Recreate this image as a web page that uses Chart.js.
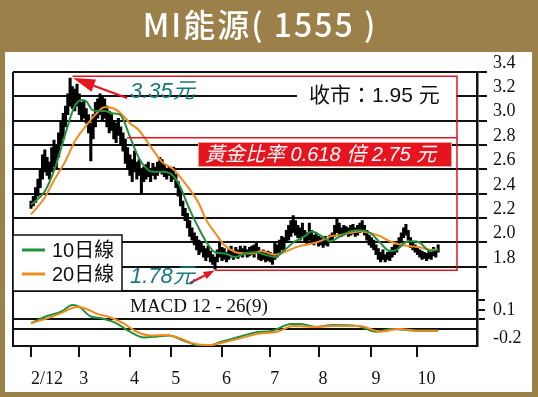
<!DOCTYPE html>
<html lang="zh-Hant">
<head>
<meta charset="UTF-8" />
<title>MI能源(1555)</title>
<script src="https://cdn.jsdelivr.net/npm/chart.js"></script>
<style>
  html, body { margin: 0; padding: 0; background: #9c8049; overflow: hidden; }
  #chart { display: block; }
</style>
</head>
<body>
<canvas id="chart" width="538" height="397"></canvas>
<script>
// === values (x = trading day from 1 Feb 2012) ===
const monthTicks = [0, 21, 43, 61, 83, 104, 125, 148, 168];
const monthLabels = ["2/12", "3", "4", "5", "6", "7", "8", "9", "10"];
const priceTicks = [1.6, 1.8, 2.0, 2.2, 2.4, 2.6, 2.8, 3.0, 3.2, 3.4];
const macdTicks = [0.2, 0.1, 0, -0.1, -0.2];

// daily low / high
const lows = [
  2.28, 2.30, 2.33, 2.38, 2.45, 2.52, 2.58, 2.55, 2.52, 2.58,
  2.62, 2.60, 2.70, 2.80, 2.85, 2.95, 3.05, 3.12, 3.10, 3.08,
  3.12, 3.05, 3.00, 3.02, 2.98, 2.90, 2.67, 2.85, 2.95, 3.02,
  3.05, 3.00, 3.02, 2.95, 2.90, 2.92, 2.85, 2.82, 2.88, 2.80,
  2.75, 2.65, 2.60, 2.55, 2.50, 2.58, 2.52, 2.55, 2.40, 2.50,
  2.52, 2.54, 2.50, 2.55, 2.52, 2.55, 2.58, 2.56, 2.54, 2.52,
  2.55, 2.50, 2.52, 2.45, 2.38, 2.30, 2.22, 2.18, 2.12, 2.05,
  2.02, 1.98, 1.94, 1.90, 1.92, 1.88, 1.85, 1.88, 1.84, 1.82,
  1.78, 1.84, 1.88, 1.85, 1.86, 1.84, 1.86, 1.88, 1.86, 1.88,
  1.87, 1.89, 1.88, 1.90, 1.88, 1.89, 1.90, 1.88, 1.92, 1.86,
  1.85, 1.86, 1.84, 1.85, 1.84, 1.82, 1.86, 1.88, 1.90, 1.94,
  1.92, 2.00, 2.02, 2.05, 2.08, 2.06, 2.04, 2.02, 2.05, 2.00,
  1.98, 2.02, 2.00, 1.98, 2.00, 1.97, 1.98, 1.96, 1.98, 1.97,
  2.00, 2.02, 2.05, 2.08, 2.06, 2.05, 2.06, 2.07, 2.05, 2.06,
  2.07, 2.05, 2.06, 2.08, 2.10, 2.06, 2.02, 1.98, 1.96, 1.94,
  1.90, 1.86, 1.84, 1.86, 1.84, 1.86, 1.85, 1.88, 1.90, 1.92,
  1.96, 2.00, 2.04, 2.06, 2.02, 1.96, 1.94, 1.92, 1.90, 1.88,
  1.86, 1.87, 1.85, 1.87, 1.86, 1.89, 1.88, 1.92
];
const highs = [
  2.34, 2.38, 2.45, 2.52, 2.60, 2.72, 2.76, 2.70, 2.66, 2.78,
  2.84, 2.80, 2.90, 3.00, 3.06, 3.12, 3.22, 3.35, 3.28, 3.26,
  3.30, 3.22, 3.15, 3.16, 3.10, 3.05, 2.98, 3.05, 3.15, 3.18,
  3.22, 3.20, 3.18, 3.12, 3.08, 3.05, 3.00, 2.98, 3.02, 2.95,
  2.90, 2.85, 2.78, 2.72, 2.68, 2.75, 2.66, 2.68, 2.60, 2.62,
  2.64, 2.66, 2.60, 2.65, 2.62, 2.66, 2.70, 2.68, 2.64, 2.60,
  2.62, 2.60, 2.62, 2.56, 2.50, 2.44, 2.34, 2.28, 2.24, 2.18,
  2.12, 2.08, 2.05, 2.02, 2.00, 1.97, 1.95, 1.97, 1.93, 1.90,
  1.88, 1.94, 2.00, 1.96, 1.95, 1.92, 1.94, 1.97, 1.92, 1.96,
  1.94, 1.97, 1.95, 1.97, 1.94, 1.96, 1.97, 1.98, 2.00, 1.96,
  1.92, 1.94, 1.91, 1.93, 1.92, 1.90, 2.00, 1.98, 2.02, 2.05,
  2.04, 2.10, 2.14, 2.18, 2.22, 2.18, 2.14, 2.12, 2.16, 2.10,
  2.08, 2.16, 2.10, 2.06, 2.08, 2.05, 2.04, 2.03, 2.05, 2.02,
  2.06, 2.08, 2.14, 2.20, 2.16, 2.12, 2.14, 2.13, 2.12, 2.14,
  2.15, 2.12, 2.14, 2.16, 2.18, 2.14, 2.10, 2.06, 2.04, 2.02,
  1.98, 1.95, 1.92, 1.94, 1.90, 1.92, 1.93, 1.96, 1.98, 2.00,
  2.04, 2.08, 2.12, 2.15, 2.10, 2.04, 2.00, 1.98, 1.96, 1.94,
  1.93, 1.92, 1.91, 1.93, 1.92, 1.96, 1.94, 1.98
];

// 10-day and 20-day moving averages (sampled along the curves)
const ma10Day = [0, 6, 10, 13.5, 16, 19, 22, 24, 26.5, 28.7, 32, 35.7, 38.7, 43, 46, 48.7, 53, 57.4, 61.7, 64.8, 69, 72.6, 75.7, 80, 84.3, 88.7, 93, 97.4, 101.7, 106, 110.4, 114.8, 119, 122, 126.5, 130, 134.3, 138.7, 143, 147.4, 151.7, 156, 159, 162.6, 166, 169, 173.5, 177];
const ma10 = [2.31, 2.42, 2.59, 2.80, 2.96, 3.12, 3.17, 3.16, 3.09, 3.08, 3.08, 3.06, 3.05, 2.87, 2.73, 2.64, 2.58, 2.58, 2.55, 2.46, 2.27, 2.13, 2.02, 1.92, 1.91, 1.88, 1.91, 1.92, 1.90, 1.88, 1.94, 2.01, 2.05, 2.09, 2.05, 2.01, 2.05, 2.09, 2.10, 2.08, 2.00, 1.93, 1.94, 2.00, 2.01, 2.00, 1.93, 1.94];
const ma20Day = [0, 6, 10, 15, 19, 24, 28, 32, 36, 39, 43, 47, 53, 57, 62, 66, 70, 73, 76, 80, 84, 89, 93, 97, 100, 106, 110, 115, 119, 124, 128, 130, 134, 139, 143, 147, 152, 156, 161, 165, 169, 174, 177];
const ma20 = [2.23, 2.37, 2.51, 2.67, 2.83, 2.96, 3.05, 3.11, 3.10, 3.06, 2.98, 2.92, 2.76, 2.66, 2.60, 2.51, 2.41, 2.32, 2.19, 2.08, 1.98, 1.92, 1.91, 1.91, 1.93, 1.90, 1.92, 1.96, 1.98, 2.00, 2.03, 2.05, 2.06, 2.08, 2.09, 2.08, 2.05, 2.01, 1.98, 1.97, 1.96, 1.94, 1.94];

// MACD 12-26(9)
const difDay = [0, 7, 13, 18, 21, 26, 31, 37, 43, 49, 55, 60, 66, 72, 77, 82, 91, 97, 105, 113, 117, 124, 131, 142, 150, 157, 168, 177];
const dif = [-0.04, 0.035, 0.08, 0.15, 0.13, 0.03, 0.01, -0.04, -0.13, -0.19, -0.18, -0.17, -0.22, -0.27, -0.28, -0.24, -0.18, -0.14, -0.12, -0.05, -0.05, -0.08, -0.06, -0.07, -0.13, -0.10, -0.12, -0.12];
const deaDay = [0, 7, 13, 20, 23, 29, 34, 40, 46, 52, 59, 65, 70, 77, 84, 91, 98, 107, 114, 124, 131, 143, 152, 160, 168, 177];
const dea = [-0.04, 0.01, 0.065, 0.13, 0.12, 0.055, 0.025, -0.04, -0.13, -0.17, -0.165, -0.20, -0.25, -0.27, -0.24, -0.20, -0.155, -0.13, -0.07, -0.08, -0.07, -0.07, -0.13, -0.10, -0.12, -0.12];

const GREEN = "#23903c";
const ORANGE = "#f28a1c";
const RED = "#e5141e";
const TEAL = "#17797b";
const CJK = '"Liberation Sans", "Noto Sans CJK TC", sans-serif';

function pts(xs, ys) {
  return xs.map((x, i) => ({ x: x, y: ys[i] }));
}

function arrow(c, x1, y1, x2, y2, len, w) {
  const a = Math.atan2(y2 - y1, x2 - x1);
  const bx = x2 - len * Math.cos(a), by = y2 - len * Math.sin(a);
  c.beginPath();
  c.moveTo(x1, y1);
  c.lineTo(bx, by);
  c.stroke();
  c.beginPath();
  c.moveTo(x2, y2);
  c.lineTo(bx + (w / 2) * Math.sin(a), by - (w / 2) * Math.cos(a));
  c.lineTo(bx - (w / 2) * Math.sin(a), by + (w / 2) * Math.cos(a));
  c.closePath();
  c.fill();
}

const decor = {
  id: "decor",
  beforeDraw(chart) {
    const c = chart.ctx;
    c.save();
    c.fillStyle = "#9c8049";
    c.fillRect(0, 0, chart.width, chart.height);
    c.fillStyle = "#ffffff";
    c.fillRect(5, 52, 527, 340);
    c.fillStyle = "#ffffff";
    c.font = '500 32px "Noto Sans CJK TC", sans-serif';
    c.letterSpacing = "2px";
    c.textAlign = "center";
    c.textBaseline = "middle";
    c.fillText("MI能源( 1555 )", 260, 25);
    c.letterSpacing = "0px";
    c.restore();
  },
  beforeDatasetsDraw(chart) {
    // make sure every 0.2 price line crosses the panel
    const c = chart.ctx;
    const a = chart.chartArea;
    const ys = chart.scales.y;
    c.save();
    c.strokeStyle = "#111";
    c.lineWidth = 2;
    priceTicks.forEach(v => {
      const y = Math.round(ys.getPixelForValue(v));
      c.beginPath();
      c.moveTo(a.left, y);
      c.lineTo(a.right, y);
      c.stroke();
    });
    c.restore();
  },
  afterDatasetsDraw(chart) {
    const c = chart.ctx;
    const a = chart.chartArea;
    const px = v => chart.scales.x.getPixelForValue(v);
    const py = v => chart.scales.y.getPixelForValue(v);
    c.save();

    // left frame
    c.strokeStyle = "#111";
    c.lineWidth = 2;
    c.beginPath();
    c.moveTo(a.left, a.top);
    c.lineTo(a.left, a.bottom);
    c.stroke();

    // red guide lines: high 3.35, low 1.78 and the golden ratio level
    c.strokeStyle = RED;
    c.lineWidth = 1.5;
    c.beginPath();
    c.moveTo(px(18), py(3.365));
    c.lineTo(px(185.2), py(3.365));
    c.lineTo(px(185.2), py(1.772));
    c.lineTo(px(80), py(1.772));
    c.moveTo(px(41.7), py(2.86));
    c.lineTo(px(185.2), py(2.86));
    c.stroke();

    // arrows
    c.fillStyle = RED;
    c.lineWidth = 2;
    arrow(c, 127, 98, px(18.3), py(3.35), 22, 13);
    arrow(c, 190, 283, px(79.8), py(1.77), 11, 8);

    // teal price labels
    c.fillStyle = TEAL;
    c.font = "italic 22px " + CJK;
    c.textAlign = "left";
    c.textBaseline = "middle";
    c.fillText("3.35元", 130, 92);
    c.fillText("1.78元", 130, 277);

    // close price
    c.fillStyle = "#fff";
    c.fillRect(297, 86, 159, 20);
    c.fillStyle = "#111";
    c.font = "21px " + CJK;
    c.fillText("收市：1.95 元", 309, 96);

    // golden ratio box
    c.fillStyle = RED;
    c.fillRect(198, 142, 254, 25);
    c.strokeStyle = "#f6a08c";
    c.lineWidth = 1;
    c.strokeRect(198.5, 142.5, 253, 24);
    c.fillStyle = "#fff";
    c.font = "italic 20px " + CJK;
    c.fillText("黃金比率 0.618 倍 2.75 元", 205, 155);

    // legend
    c.fillStyle = "#fff";
    c.fillRect(a.left, 235, 109, 56);
    c.strokeStyle = "#111";
    c.lineWidth = 1.5;
    c.strokeRect(a.left, 235, 109, 56);
    c.lineWidth = 3;
    c.strokeStyle = GREEN;
    c.beginPath(); c.moveTo(22, 250); c.lineTo(45, 250); c.stroke();
    c.strokeStyle = ORANGE;
    c.beginPath(); c.moveTo(22, 274); c.lineTo(45, 274); c.stroke();
    c.fillStyle = "#111";
    c.font = "20px " + CJK;
    c.fillText("10日線", 52, 251);
    c.fillText("20日線", 52, 275);

    // MACD caption
    c.font = '19px "Liberation Serif", serif';
    c.fillText("MACD 12 - 26(9)", 130, 307);

    c.restore();
  }
};

new Chart(document.getElementById("chart"), {
  type: "bar",
  data: {
    datasets: [
      {
        type: "bar",
        data: lows.map((lo, i) => ({ x: i, y: [lo, highs[i]] })),
        yAxisID: "y",
        backgroundColor: "#000",
        barThickness: 2.4,
        grouped: false,
        order: 10
      },
      {
        type: "line", data: pts(ma20Day, ma20), yAxisID: "y",
        borderColor: ORANGE, borderWidth: 2, pointRadius: 0,
        cubicInterpolationMode: "monotone", order: 2
      },
      {
        type: "line", data: pts(ma10Day, ma10), yAxisID: "y",
        borderColor: GREEN, borderWidth: 2, pointRadius: 0,
        cubicInterpolationMode: "monotone", order: 1
      },
      {
        type: "line", data: pts(difDay, dif), yAxisID: "m",
        borderColor: GREEN, borderWidth: 2, pointRadius: 0,
        cubicInterpolationMode: "monotone", order: 1
      },
      {
        type: "line", data: pts(deaDay, dea), yAxisID: "m",
        borderColor: ORANGE, borderWidth: 2, pointRadius: 0,
        cubicInterpolationMode: "monotone", order: 0
      }
    ]
  },
  options: {
    responsive: false,
    animation: false,
    events: [],
    layout: { padding: { left: 13, top: 72, right: 0, bottom: 0 } },
    plugins: { legend: { display: false }, tooltip: { enabled: false } },
    scales: {
      x: {
        type: "linear",
        min: -7.83,
        max: 193.9,
        offset: false,
        afterBuildTicks: s => { s.ticks = monthTicks.map(v => ({ value: v })); },
        afterFit: s => { s.height = 51; },
        grid: { offset: false, drawOnChartArea: false, tickLength: 11, lineWidth: 2, tickColor: "#111" },
        border: { display: true, color: "#111", width: 2 },
        ticks: {
          autoSkip: false,
          maxRotation: 0,
          align: "start",
          padding: 11,
          color: "#111",
          font: { family: "Liberation Serif", size: 18 },
          callback: (v, i) => monthLabels[i]
        }
      },
      y: {
        type: "linear",
        position: "right",
        stack: "panes",
        stackWeight: 4,
        min: 1.6,
        max: 3.4,
        beginAtZero: false,
        afterBuildTicks: s => { s.ticks = priceTicks.map(v => ({ value: v })); },
        afterFit: s => { s.width = 61; },
        grid: {
          color: "#111",
          lineWidth: 2,
          tickLength: 10,
          tickColor: ctx => (ctx.tick && ctx.tick.value === 1.6 ? "rgba(0,0,0,0)" : "#111")
        },
        border: { display: true, color: "#111", width: 2.5 },
        ticks: {
          autoSkip: false,
          padding: 6,
          labelOffset: -9,
          color: "#111",
          font: { family: "Liberation Serif", size: 18 },
          callback: v => (v === 1.6 ? "" : v.toFixed(1))
        }
      },
      m: {
        type: "linear",
        position: "right",
        stack: "panes",
        stackWeight: 1,
        min: -0.28,
        max: 0.296,
        afterBuildTicks: s => { s.ticks = macdTicks.map(v => ({ value: v })); },
        afterFit: s => { s.width = 61; },
        grid: {
          lineWidth: 2,
          tickLength: 8,
          color: ctx => (ctx.tick && (ctx.tick.value === 0 || ctx.tick.value === -0.1) ? "#111" : "rgba(0,0,0,0)"),
          tickColor: ctx => (ctx.tick && ctx.tick.value >= 0 ? "#111" : "rgba(0,0,0,0)")
        },
        border: { display: true, color: "#111", width: 2.5 },
        ticks: {
          autoSkip: false,
          padding: 8,
          color: "#111",
          font: { family: "Liberation Serif", size: 18 },
          callback: v => (v === 0.1 ? "0.1" : v === -0.2 ? "-0.2" : "")
        }
      }
    }
  },
  plugins: [decor]
});
</script>
</body>
</html>
